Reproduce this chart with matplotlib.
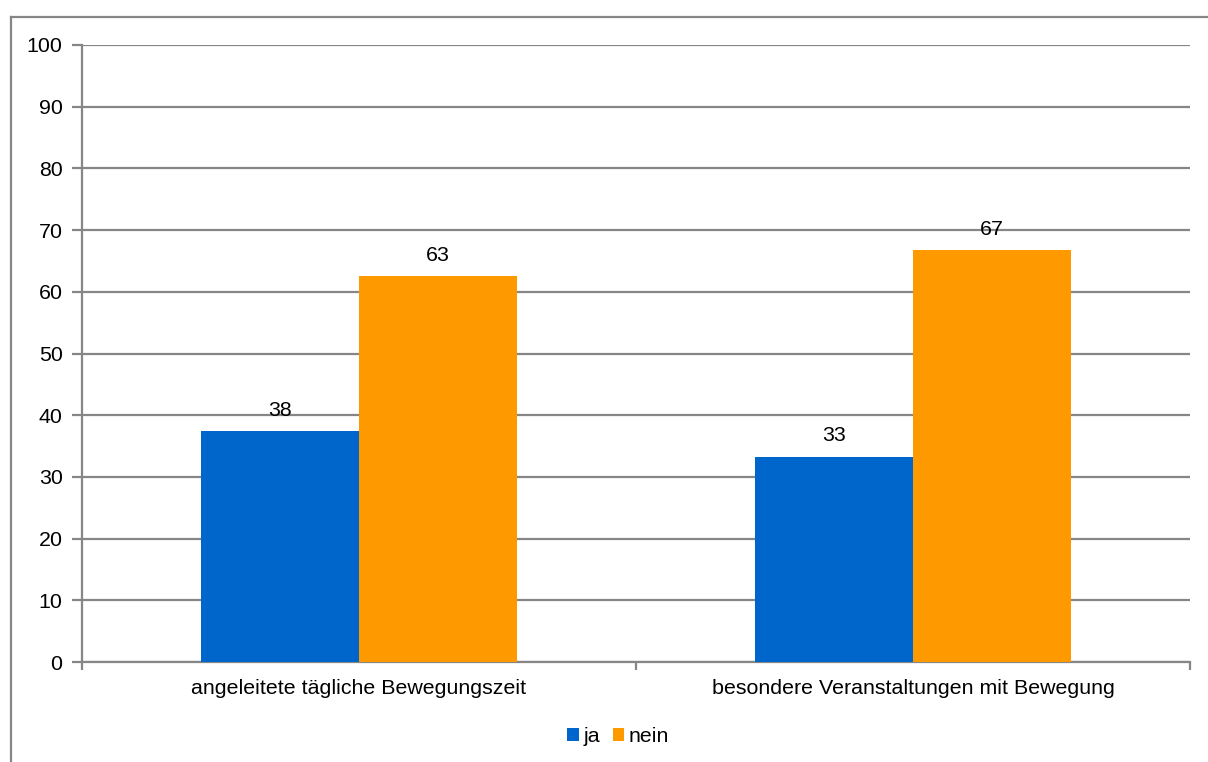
import matplotlib
matplotlib.use("Agg")
import matplotlib.pyplot as plt
from matplotlib.lines import Line2D
import numpy as np

categories = ["angeleitete tägliche Bewegungszeit", "besondere Veranstaltungen mit Bewegung"]
ja = [37.5, 33.3]
nein = [62.5, 66.7]
ja_labels = ["38", "33"]
nein_labels = ["63", "67"]
series_names = ["ja", "nein"]
colors = ["#0066CC", "#FF9900"]
yticks = list(range(0, 101, 10))

plt.rcParams['font.family'] = ['Liberation Sans', 'DejaVu Sans']
W, H = 1208, 762
fig = plt.figure(figsize=(W / 100, H / 100), dpi=100)
ax = fig.add_axes([82 / W, 100 / H, (1190 - 82) / W, (662 - 45) / H])

grey = "#868686"
fs = 15.4
x = np.arange(len(categories))
bw = 0.285
b1 = ax.bar(x - bw / 2, ja, bw, color=colors[0], label=series_names[0], zorder=3)
b2 = ax.bar(x + bw / 2, nein, bw, color=colors[1], label=series_names[1], zorder=3)
for bars, labs in ((b1, ja_labels), (b2, nein_labels)):
    for r, lab in zip(bars, labs):
        ax.annotate(lab, (r.get_x() + r.get_width() / 2, r.get_height()),
                    xytext=(0, 8), textcoords="offset points", ha="center",
                    va="bottom", fontsize=fs, color="black", zorder=4)

ax.set_xlim(-0.5, len(categories) - 0.5)
ax.set_ylim(0, 100)
ax.set_yticks(yticks)
ax.set_yticklabels([str(v) for v in yticks])
ax.yaxis.grid(True, color=grey, linewidth=1.6, zorder=0)
ax.set_axisbelow(True)
ax.set_xticks(x)
ax.set_xticklabels(categories)
ax.set_xticks([-0.5, 0.5, 1.5], minor=True)
ax.tick_params(axis="x", which="major", length=0, pad=12, labelsize=fs)
ax.tick_params(axis="x", which="minor", length=6, width=1.6, color=grey, direction="out")
ax.tick_params(axis="y", length=7, width=1.6, color=grey, direction="out", labelsize=fs, pad=7)
for s in ("top", "right"):
    ax.spines[s].set_visible(False)
for s in ("left", "bottom"):
    ax.spines[s].set_color(grey)
    ax.spines[s].set_linewidth(1.6)

leg = ax.legend(loc="center", bbox_to_anchor=(618 / W, 1 - 737 / H), bbox_transform=fig.transFigure,
                ncol=2, frameon=False, fontsize=fs, handlelength=0.55, handleheight=0.55,
                handletextpad=0.2, columnspacing=0.6)

# outer border
fig.add_artist(Line2D([10.5 / W, 10.5 / W], [0, 1 - 16.5 / H], color=grey, linewidth=1.6, transform=fig.transFigure))
fig.add_artist(Line2D([10.5 / W, 1], [1 - 16.5 / H, 1 - 16.5 / H], color=grey, linewidth=1.6, transform=fig.transFigure))

fig.savefig("out.png", dpi=100)
